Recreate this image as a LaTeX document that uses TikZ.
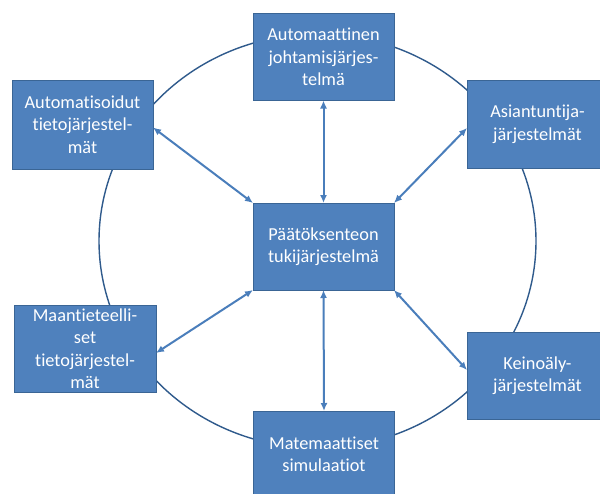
\documentclass[tikz,border=0pt]{standalone}
\usepackage{fontspec}
\setmainfont[Ligatures={NoCommon}]{Carlito}
\usetikzlibrary{arrows.meta}
\definecolor{boxfill}{HTML}{4F81BD}
\definecolor{boxline}{HTML}{3A6595}
\definecolor{ringline}{HTML}{2F5A8C}
\definecolor{arrowcol}{HTML}{4A7EBB}
\tikzset{
  sysbox/.style={draw=boxline, line width=0.9pt, fill=boxfill, text=white,
    minimum width=141pt, minimum height=87pt, inner sep=0pt, outer sep=0pt,
    align=center, font=\fontsize{18.3}{22.5}\selectfont},
  ring/.style={draw=ringline, line width=1.4pt},
  link/.style={draw=arrowcol, line width=2pt, {Latex[length=8pt,width=7pt]}-{Latex[length=8pt,width=7pt]}}
}
\begin{document}
\begin{tikzpicture}[x=1pt,y=-1pt]
\useasboundingbox (0,0) rectangle (600,493);
\clip (0,0) rectangle (600,493);
\fill[white] (0,0) rectangle (600,493);
\draw[ring] (317.5,241) ellipse [x radius=218.5, y radius=207];
\node[sysbox] (top) at (323.5,57) {Automaattinen\\johtamisjärjes-\\telmä};
\node[sysbox, minimum height=89pt] (lt) at (82.5,124.5) {Automatisoidut\\tietojärjestel-\\mät};
\node[sysbox, minimum height=88pt] (rt) at (537.5,124.5) {Asiantuntija-\\järjestelmät};
\node[sysbox] (ctr) at (323.5,246.5) {Päätöksenteon\\tukijärjestelmä};
\node[sysbox, minimum width=142pt] (lb) at (85,348.5) {Maantieteelli-\\set\\tietojärjestel-\\mät};
\node[sysbox] (rb) at (537.5,375.5) {Keinoäly-\\järjestelmät};
\node[sysbox] (bot) at (324,454.5) {Matemaattiset\\simulaatiot};
\coordinate (ltE) at ([yshift=-3pt]lt.east);
\coordinate (rtW) at ([yshift=-3.5pt]rt.west);
\coordinate (lbE) at ([yshift=-4.5pt]lb.east);
\coordinate (rbW) at ([yshift=5.5pt]rb.west);
\draw[link] (ctr.north) -- (top.south);
\draw[link] (ctr.north west) -- (ltE);
\draw[link] (ctr.north east) -- (rtW);
\draw[link] (ctr.south west) -- (lbE);
\draw[link] (ctr.south east) -- (rbW);
\draw[link] (ctr.south) -- (bot.north);
\end{tikzpicture}
\end{document}
